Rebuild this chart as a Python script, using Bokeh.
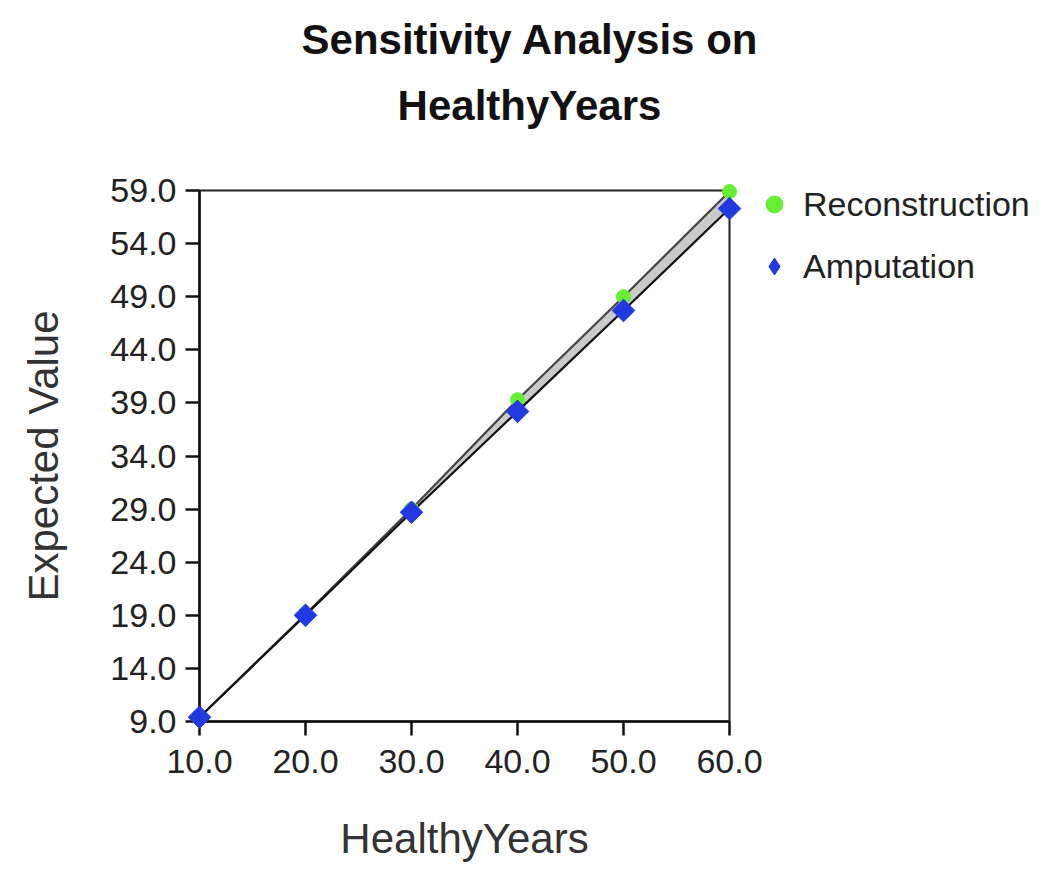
import math
from bokeh.plotting import figure
from bokeh.models import Range1d, FixedTicker, Legend, LegendItem, Div
from bokeh.layouts import column
from bokeh.embed import file_html
from bokeh.resources import INLINE

# ---- data ----
healthy_years = [10, 20, 30, 40, 50, 60]
reconstruction = [9.4, 19.1, 29.0, 39.3, 49.0, 58.9]
amputation = [9.4, 19.0, 28.7, 38.2, 47.7, 57.3]
x_ticks = [10, 20, 30, 40, 50, 60]
x_tick_labels = ["10.0", "20.0", "30.0", "40.0", "50.0", "60.0"]
y_ticks = [9, 14, 19, 24, 29, 34, 39, 44, 49, 54, 59]
y_tick_labels = ["9.0", "14.0", "19.0", "24.0", "29.0", "34.0", "39.0", "44.0", "49.0", "54.0", "59.0"]
title_lines = ["Sensitivity Analysis on", "HealthyYears"]
x_label = "HealthyYears"
y_label = "Expected Value"
series_names = ["Reconstruction", "Amputation"]

FONT = "Liberation Sans"
xmin, xmax = x_ticks[0], x_ticks[-1]
ymin, ymax = y_ticks[0], y_ticks[-1]

title_div = Div(
    text='<div style="display:block; box-sizing:border-box; width:1021px; '
         'padding-top:7px; margin-left:19px; text-align:center; '
         'line-height:66px; font-family:\'Liberation Sans\', Arial, sans-serif; '
         'font-size:42px; font-weight:bold; color:#111111;">'
         + "<br>".join(title_lines) + "</div>",
    width=1040, height=150, margin=0)

p = figure(frame_width=530, frame_height=531,
           x_range=Range1d(xmin, xmax), y_range=Range1d(ymin, ymax),
           output_backend="svg", toolbar_location=None,
           min_border_left=199, min_border_right=311,
           min_border_top=40, min_border_bottom=154, margin=0)
p.title.text = ""
p.outline_line_color = "#222222"
p.outline_line_width = 2
p.xgrid.visible = False
p.ygrid.visible = False

for ax, ticks, labels, lab in ((p.xaxis[0], x_ticks, x_tick_labels, x_label),
                               (p.yaxis[0], y_ticks, y_tick_labels, y_label)):
    ax.ticker = FixedTicker(ticks=ticks)
    ax.major_label_overrides = {t: l for t, l in zip(ticks, labels)}
    ax.axis_line_color = "#111111"
    ax.axis_line_width = 2.5
    ax.major_tick_line_color = "#111111"
    ax.major_tick_line_width = 2.5
    ax.major_tick_out = 14
    ax.major_tick_in = 0
    ax.minor_tick_out = 0
    ax.minor_tick_in = 0
    ax.major_label_text_font = FONT
    ax.major_label_text_font_size = "34px"
    ax.major_label_text_color = "#222222"
    ax.axis_label = lab
    ax.axis_label_text_font = FONT
    ax.axis_label_text_font_size = "42px"
    ax.axis_label_text_font_style = "normal"
    ax.axis_label_text_color = "#333333"

p.xaxis.major_label_standoff = 14
p.yaxis.major_label_standoff = 9
p.xaxis.axis_label_standoff = 39
p.yaxis.axis_label_standoff = 40

# light gray band between the two series lines
p.varea(x=healthy_years, y1=amputation, y2=reconstruction, fill_color="#cacaca")
# series lines
p.line(healthy_years, reconstruction, line_color="#444444", line_width=2.2)
p.line(healthy_years, amputation, line_color="#111111", line_width=2.2)

g = p.scatter(healthy_years, reconstruction, marker="circle", size=14,
              fill_color="#66ee33", line_color="#66ee33", level="overlay")
b = p.scatter(healthy_years, amputation, marker="square", size=16, angle=math.pi / 4,
              fill_color="#2238e0", line_color="#2238e0", level="overlay")
# legend swatch for the diamonds (legend glyphs ignore marker rotation)
b_key = p.scatter(healthy_years, amputation, marker="diamond", size=16,
                  fill_color="#2238e0", line_color="#2238e0", visible=False)

legend = Legend(items=[LegendItem(label=series_names[0], renderers=[g]),
                       LegendItem(label=series_names[1], renderers=[b_key])],
                location=(24, 434), orientation="vertical",
                padding=0, margin=0, spacing=20,
                glyph_width=42, glyph_height=42, label_height=40,
                label_standoff=8, inactive_fill_alpha=0,
                label_text_font=FONT, label_text_font_size="34px",
                label_text_color="#222222",
                border_line_color=None, background_fill_alpha=0)
p.add_layout(legend, "right")

layout = column(title_div, p, spacing=0)
open("out.html", "w").write(file_html(layout, INLINE))
